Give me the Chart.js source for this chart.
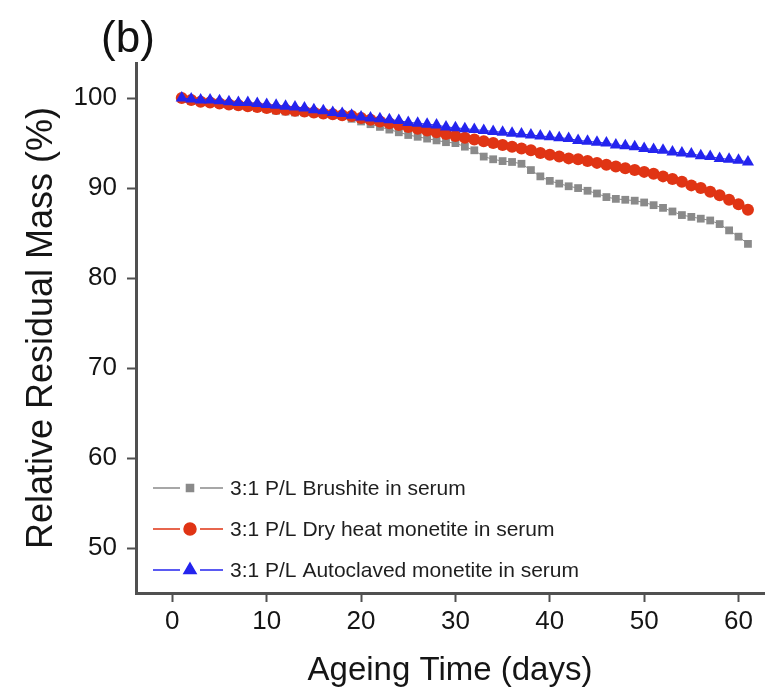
<!DOCTYPE html>
<html>
<head>
<meta charset="utf-8">
<script src="https://cdn.jsdelivr.net/npm/chart.js@4/dist/chart.umd.min.js"></script>
<style>
  html, body { margin: 0; padding: 0; background: #fff; }
  #wrap { width: 771px; height: 699px; }
</style>
</head>
<body>
<div id="wrap"><canvas id="massChart" width="771" height="699"></canvas></div>
<script>
// ----- data -----
const days = [1,2,3,4,5,6,7,8,9,10,11,12,13,14,15,16,17,18,19,20,21,22,23,24,25,26,27,28,29,30,
  31,32,33,34,35,36,37,38,39,40,41,42,43,44,45,46,47,48,49,50,51,52,53,54,55,56,57,58,59,60,61];

const brushite = [100.0,99.8,99.6,99.5,99.4,99.3,99.1,99.0,98.9,98.8,98.6,98.5,98.4,98.4,98.3,98.2,98.1,98.0,97.7,97.4,
  97.1,96.8,96.5,96.2,95.9,95.7,95.5,95.3,95.1,95.0,94.6,94.2,93.5,93.2,93.0,92.9,92.7,92.0,91.3,90.8,
  90.5,90.2,90.0,89.7,89.4,89.0,88.8,88.7,88.6,88.4,88.1,87.8,87.4,87.0,86.8,86.6,86.4,86.0,85.3,84.6,83.8];

const dryHeat = [100.0,99.8,99.6,99.5,99.4,99.3,99.2,99.1,99.0,98.9,98.8,98.7,98.6,98.5,98.4,98.3,98.2,98.1,98.0,97.8,
  97.6,97.4,97.2,97.0,96.8,96.6,96.4,96.2,96.0,95.8,95.6,95.4,95.2,95.0,94.8,94.6,94.4,94.2,93.9,93.7,
  93.5,93.3,93.2,93.0,92.8,92.6,92.4,92.2,92.0,91.8,91.6,91.3,91.0,90.7,90.3,90.0,89.6,89.2,88.7,88.2,87.6];

const autoclaved = [100.0,99.9,99.8,99.8,99.7,99.6,99.5,99.5,99.4,99.3,99.2,99.1,99.0,98.9,98.7,98.6,98.4,98.3,98.1,97.9,
  97.8,97.7,97.6,97.5,97.3,97.2,97.1,97.0,96.8,96.7,96.6,96.5,96.4,96.3,96.2,96.1,96.0,95.9,95.8,95.7,
  95.6,95.5,95.3,95.2,95.1,95.0,94.8,94.7,94.6,94.4,94.3,94.2,94.0,93.9,93.8,93.6,93.5,93.3,93.2,93.1,92.9];

const seriesLabels = ['3:1 P/L Brushite in serum', '3:1 P/L Dry heat monetite in serum', '3:1 P/L Autoclaved monetite in serum'];
const xTicks = [0, 10, 20, 30, 40, 50, 60];
const yTicks = [50, 60, 70, 80, 90, 100];

const FONT = '"Liberation Sans", Arial, Helvetica, sans-serif';
const AXIS = '#505050';

function pts(ys) { return days.map((d, i) => ({ x: d, y: ys[i] })); }

// legend drawn inside the plot, bottom left (line - marker - line, then text)
const insideLegend = {
  id: 'insideLegend',
  afterDatasetsDraw(chart) {
    const ctx = chart.ctx;
    const rows = [488, 529, 570];
    ctx.save();
    chart.data.datasets.forEach((ds, i) => {
      const y = rows[i];
      ctx.strokeStyle = ds.borderColor;
      ctx.lineWidth = 1.5;
      ctx.beginPath();
      ctx.moveTo(153, y); ctx.lineTo(180, y);
      ctx.moveTo(200, y); ctx.lineTo(223, y);
      ctx.stroke();
      ctx.fillStyle = ds.pointBackgroundColor;
      ctx.strokeStyle = ds.pointBackgroundColor;
      Chart.helpers.drawPoint(ctx, { pointStyle: ds.pointStyle, radius: ds.legendRadius, rotation: 0, borderWidth: 1 }, 190, y);
      ctx.fillStyle = '#1e1e1e';
      ctx.font = '21px ' + FONT;
      ctx.textBaseline = 'middle';
      ctx.textAlign = 'left';
      ctx.fillText(ds.label, 230, y + 1);
    });
    ctx.restore();
  }
};

// panel letter
const panelTag = {
  id: 'panelTag',
  afterDraw(chart) {
    const ctx = chart.ctx;
    ctx.save();
    ctx.fillStyle = '#111';
    ctx.font = '44px ' + FONT;
    ctx.textAlign = 'center';
    ctx.textBaseline = 'middle';
    ctx.fillText('(b)', 128, 40);
    ctx.restore();
  }
};

new Chart(document.getElementById('massChart'), {
  type: 'line',
  data: {
    datasets: [
      {
        label: seriesLabels[0], data: pts(brushite), order: 3, legendRadius: 5,
        borderColor: '#8a8a8a', borderWidth: 1, pointStyle: 'rect', pointRadius: 5.5,
        pointBackgroundColor: '#8a8a8a', pointBorderColor: '#8a8a8a', pointBorderWidth: 0
      },
      {
        label: seriesLabels[1], data: pts(dryHeat), order: 2, legendRadius: 6,
        borderColor: '#e03414', borderWidth: 1, pointStyle: 'circle', pointRadius: 6,
        pointBackgroundColor: '#e03414', pointBorderColor: '#e03414', pointBorderWidth: 0
      },
      {
        label: seriesLabels[2], data: pts(autoclaved), order: 1, legendRadius: 7,
        borderColor: '#2424ee', borderWidth: 1, pointStyle: 'triangle', pointRadius: 7,
        pointBackgroundColor: '#2424ee', pointBorderColor: '#2424ee', pointBorderWidth: 0
      }
    ]
  },
  options: {
    responsive: false,
    animation: false,
    events: [],
    layout: { padding: { top: 63, right: 0, left: 0, bottom: 0 } },
    plugins: { legend: { display: false }, tooltip: { enabled: false } },
    scales: {
      x: {
        type: 'linear', min: -3.85, max: 62.7,
        afterBuildTicks: s => { s.ticks = xTicks.map(v => ({ value: v })); },
        afterFit: s => { s.height = 106; },
        grid: { drawOnChartArea: false, drawTicks: true, tickLength: 9, tickWidth: 2, tickColor: AXIS },
        border: { display: true, color: AXIS, width: 3 },
        ticks: { color: '#151515', padding: 4, font: { family: FONT, size: 26 }, maxRotation: 0 },
        title: { display: true, text: 'Ageing Time (days)', color: '#151515',
                 font: { family: FONT, size: 33 }, padding: { top: 0, bottom: 8 } }
      },
      y: {
        min: 45, max: 103.9,
        afterBuildTicks: s => { s.ticks = yTicks.map(v => ({ value: v })); },
        afterFit: s => { s.width = 136; },
        grid: { drawOnChartArea: false, drawTicks: true, tickLength: 9, tickWidth: 2, tickColor: AXIS },
        border: { display: true, color: AXIS, width: 3 },
        ticks: { color: '#151515', padding: 10, font: { family: FONT, size: 26 } },
        title: { display: true, text: 'Relative Residual Mass (%)', color: '#151515',
                 font: { family: FONT, size: 36 }, padding: { top: 20, bottom: 0 } }
      }
    }
  },
  plugins: [insideLegend, panelTag]
});
</script>
</body>
</html>
